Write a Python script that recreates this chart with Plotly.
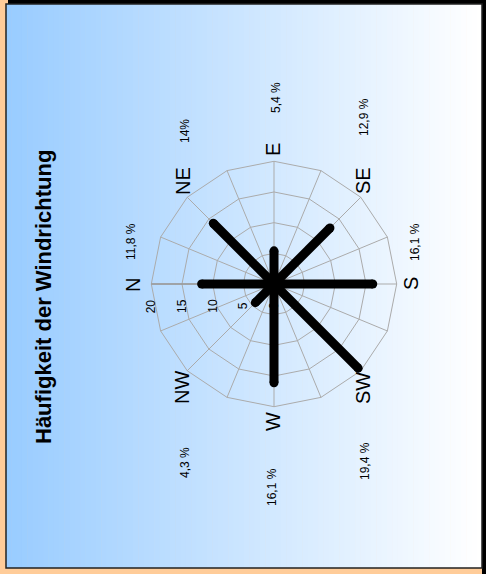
import plotly.graph_objects as go

# ---- data ----
directions = ["N", "NE", "E", "SE", "S", "SW", "W", "NW"]
frequency = [11.8, 14.0, 5.4, 12.9, 16.1, 19.4, 16.1, 4.3]
pct_labels = ["11,8 %", "14%", "5,4 %", "12,9 %", "16,1 %", "19,4 %", "16,1 %", "4,3 %"]
grid_dirs = ["N", "NNE", "NE", "ENE", "E", "ESE", "SE", "SSE",
             "S", "SSW", "SW", "WSW", "W", "WNW", "NW", "NNW"]
radial_ticks = [0, 5, 10, 15, 20]
title_text = "Häufigkeit der Windrichtung"

W, H = 486, 574
FONT = "Liberation Sans, Arial, sans-serif"

def px(x):
    return x / W

def py(y):
    return 1 - y / H

fig = go.Figure()

# helper trace so all 16 grid directions exist on the angular axis
fig.add_trace(go.Scatterpolar(r=[0] * len(grid_dirs), theta=grid_dirs, mode="none",
                              hoverinfo="skip", showlegend=False))

# bars as thick lines from centre
rr, tt = [], []
for d, v in zip(directions, frequency):
    rr += [0, v, None]
    tt += [d, d, None]
fig.add_trace(go.Scatterpolar(r=rr, theta=tt, mode="lines",
                              line=dict(color="black", width=9),
                              hoverinfo="skip", showlegend=False))
# round caps
fig.add_trace(go.Scatterpolar(r=frequency, theta=directions, mode="markers",
                              marker=dict(color="black", size=9),
                              showlegend=False))

cx, cy, R = 274, 284, 122.7
RMAX = 20
grid_col = "#ABABAB"
fig.update_layout(
    width=W, height=H,
    margin=dict(l=0, r=0, t=0, b=0),
    paper_bgcolor="#FFCC99",
    font=dict(family=FONT, color="black"),
    showlegend=False,
    polar=dict(
        domain=dict(x=[px(cx - R), px(cx + R)], y=[py(cy + R), py(cy - R)]),
        bgcolor="rgba(0,0,0,0)",
        gridshape="linear",
        angularaxis=dict(
            type="category", categoryorder="array", categoryarray=grid_dirs,
            rotation=180, direction="clockwise",
            showgrid=True, gridcolor=grid_col, gridwidth=1,
            showline=True, linecolor=grid_col, linewidth=1,
            ticks="", showticklabels=False, layer="below traces",
        ),
        radialaxis=dict(
            range=[0, RMAX], tickmode="array", tickvals=radial_ticks,
            angle=180, showticklabels=False,
            showgrid=True, gridcolor=grid_col, gridwidth=1,
            showline=True, linecolor="#999999", linewidth=1.5, ticks="",
            layer="below traces",
        ),
    ),
)

# background frame: shadow + gradient box
shapes = []
shapes.append(dict(type="rect", xref="paper", yref="paper", layer="below",
                   x0=px(8), x1=px(486), y0=py(4), y1=py(0),
                   fillcolor="black", line=dict(width=0)))
shapes.append(dict(type="rect", xref="paper", yref="paper", layer="below",
                   x0=px(482), x1=px(486), y0=py(574), y1=py(0),
                   fillcolor="black", line=dict(width=0)))
x_left, x_right, top, bottom = 6, 482, 4, 568
n = 90
c0 = (153, 204, 255)
c1 = (255, 255, 255)
for i in range(n):
    t = i / (n - 1)
    col = tuple(round(a + (b - a) * t) for a, b in zip(c0, c1))
    xa = x_left + (x_right - x_left) * i / n
    xb = x_left + (x_right - x_left) * (i + 1) / n + 0.6
    shapes.append(dict(type="rect", xref="paper", yref="paper", layer="below",
                       x0=px(xa), x1=px(min(xb, x_right)), y0=py(bottom), y1=py(top),
                       fillcolor="rgb(%d,%d,%d)" % col, line=dict(width=0)))
shapes.append(dict(type="rect", xref="paper", yref="paper", layer="below",
                   x0=px(x_left), x1=px(x_right), y0=py(bottom), y1=py(top),
                   fillcolor="rgba(0,0,0,0)", line=dict(color="#222222", width=1.5)))
fig.update_layout(shapes=shapes)

def vtext(text, x, y, size, bold=False):
    return dict(text=("<b>%s</b>" % text) if bold else text, textangle=-90,
                showarrow=False, xref="paper", yref="paper",
                x=px(x), y=py(y), xanchor="center", yanchor="middle",
                font=dict(size=size, family=FONT, color="black"))

annotations = [vtext(title_text, 43, 297, 22, bold=True)]

# direction labels (rotated, outside the grid)
dir_pos = {"N": (133, 285), "NE": (183, 181), "E": (273, 150), "SE": (363, 181),
           "S": (411, 284), "SW": (363, 388), "W": (273, 422), "NW": (182, 388)}
for d in directions:
    x, y = dir_pos[d]
    annotations.append(vtext(d, x, y, 20))

# percentage labels
pct_pos = {"N": (131, 242), "NE": (185, 131), "E": (276, 98), "SE": (364, 117),
           "S": (415, 242), "SW": (365, 461), "W": (272, 487), "NW": (185, 463)}
for d, lab in zip(directions, pct_labels):
    x, y = pct_pos[d]
    annotations.append(vtext(lab, x, y, 12))

# radial tick labels along the N spoke, set just below it
for v in radial_ticks:
    annotations.append(vtext(str(v), cx - v / RMAX * R, cy + 22, 12))

fig.update_layout(annotations=annotations)

fig.write_html("out.html", config={"displayModeBar": False},
               post_script="document.body.style.margin='0px';")
